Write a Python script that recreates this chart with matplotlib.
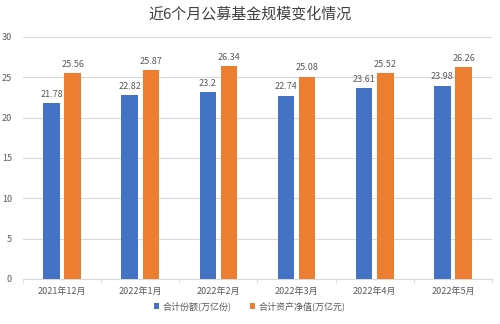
import numpy as np
import matplotlib.pyplot as plt

plt.rcParams["font.family"] = ["Noto Sans CJK SC", "DejaVu Sans"]

months = ["2021年12月", "2022年1月", "2022年2月", "2022年3月", "2022年4月", "2022年5月"]
shares = [21.78, 22.82, 23.2, 22.74, 23.61, 23.98]
net_assets = [25.56, 25.87, 26.34, 25.08, 25.52, 26.26]

BLUE = "#4472C4"
ORANGE = "#ED7D31"
GRID = "#D9D9D9"
TEXT = "#595959"

fig = plt.figure(figsize=(5, 3.24), dpi=100)
ax = fig.add_axes([0.046, 0.139, 0.938, 0.747])

x = np.arange(len(months))
w = 0.21
off = 0.135
b1 = ax.bar(x - off, shares, w, color=BLUE, label="合计份额(万亿份)", zorder=3)
b2 = ax.bar(x + off, net_assets, w, color=ORANGE, label="合计资产净值(万亿元)", zorder=3)

for bars, vals in ((b1, shares), (b2, net_assets)):
    for r, v in zip(bars, vals):
        ax.annotate(f"{v:g}", (r.get_x() + r.get_width() / 2, v), xytext=(0, 3),
                    textcoords="offset points", ha="center", va="bottom",
                    fontsize=6.5, color=TEXT)

ax.set_ylim(0, 30)
ax.set_yticks(range(0, 31, 5))
ax.set_xlim(-0.5, len(months) - 0.5)
ax.set_xticks(x)
ax.set_xticklabels(months)
ax.set_xticks(np.arange(-0.5, len(months)), minor=True)
ax.yaxis.grid(True, color=GRID, linewidth=0.8, zorder=0)
for s in ("top", "right", "left"):
    ax.spines[s].set_visible(False)
ax.spines["bottom"].set_color(GRID)
ax.tick_params(axis="y", length=0, labelsize=6.5, labelcolor=TEXT, pad=8)
ax.tick_params(axis="x", which="major", length=0, labelsize=6.5, labelcolor=TEXT, pad=6)
ax.tick_params(axis="x", which="minor", length=3, color=GRID)

fig.suptitle("近6个月公募基金规模变化情况", y=0.978, fontsize=10.8, color="#404040")
fig.legend(loc="lower center", bbox_to_anchor=(0.5, 0.015), ncol=2, frameon=False,
           fontsize=6.5, labelcolor=TEXT, handlelength=0.6, handleheight=0.6,
           columnspacing=2.0, handletextpad=0.4)

fig.savefig("out.png", dpi=100)
